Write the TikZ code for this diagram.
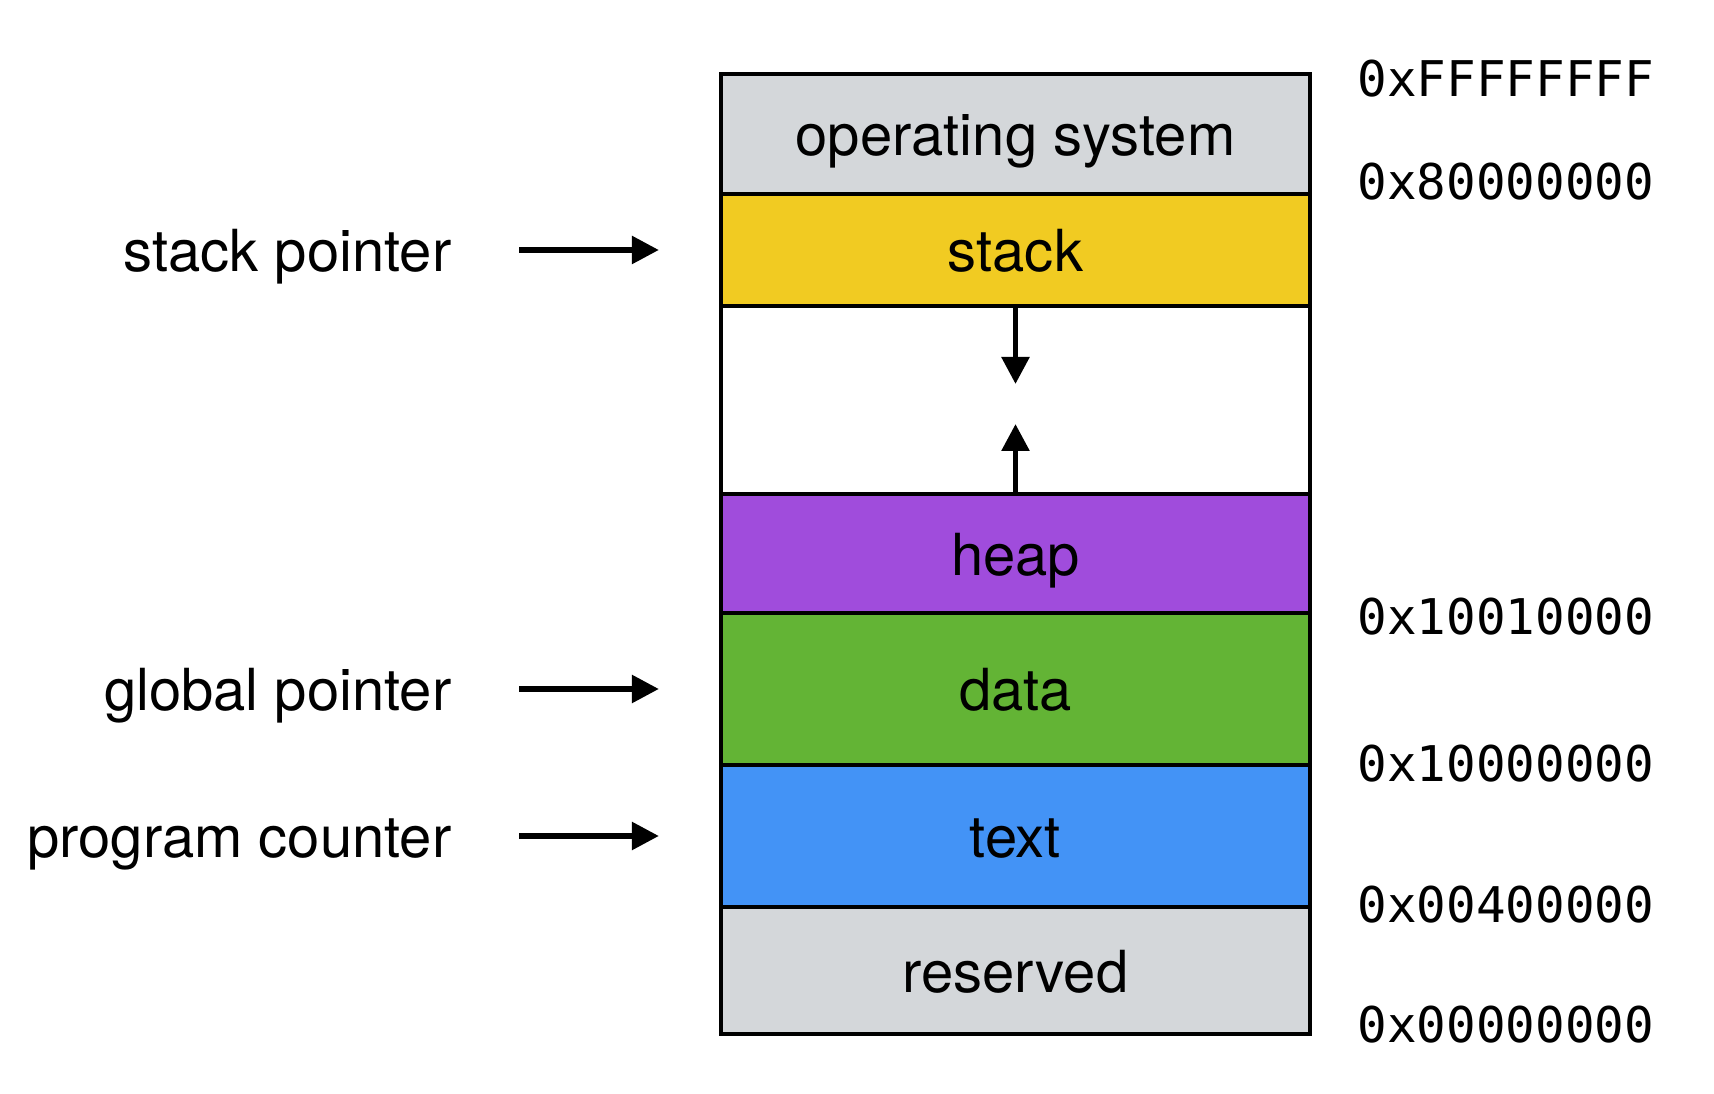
\documentclass[tikz,border=0pt]{standalone}
\usepackage{fontspec}
\setmainfont{TeX Gyre Heros}
\newfontfamily\addrfont{DejaVu Sans Mono}
\usetikzlibrary{arrows.meta}
\definecolor{osgray}{HTML}{D4D7DA}
\definecolor{stackyellow}{HTML}{F1CB22}
\definecolor{heappurple}{HTML}{A04CDC}
\definecolor{datagreen}{HTML}{63B435}
\definecolor{textblue}{HTML}{4393F6}
\tikzset{
  seg/.style={draw, line width=1.2pt, inner sep=0pt, minimum width=5.89cm,
    font=\fontsize{16.5}{20}\selectfont, text height=12.5pt, text depth=0pt},
  lbl/.style={anchor=east, inner sep=0pt,
    font=\fontsize{16.5}{20}\selectfont, text height=12.5pt, text depth=0pt},
  addr/.style={anchor=base west, inner sep=0pt, font=\addrfont\fontsize{14}{17}\selectfont},
  ptr/.style={-{Triangle[length=2.7mm,width=2.7mm]}, line width=1.6pt,
    shorten <=0.67cm, shorten >=0.6cm},
  growarrow/.style={-{Triangle[length=2.7mm,width=2.7mm]}, line width=1.6pt}
}
\begin{document}
\begin{tikzpicture}
\fill[white] (0,0) rectangle (17.14,10.94);
\useasboundingbox (0,0) rectangle (17.14,10.94);

% memory segments, top to bottom
\foreach \n/\y/\h/\col/\txt in {os/9.60/1.20/osgray/operating system,
    stack/8.44/1.12/stackyellow/stack, free/6.94/1.88/white/,
    heap/5.405/1.19/heappurple/heap, data/4.05/1.52/datagreen/data,
    text/2.58/1.42/textblue/text, res/1.235/1.27/osgray/reserved}
{
    \node[seg, fill=\col, minimum height=\h cm] (\n) at (10.155,\y) {\txt};
}

\coordinate (down) at (10.155,7.10);
\coordinate (up) at (10.155,6.70);
\draw[growarrow] (stack.south) -- (down);
\draw[growarrow] (heap.north) -- (up);

\node[lbl] (sp) at (4.52,8.44) {stack pointer};
\node[lbl] (gp) at (4.52,4.05) {global pointer};
\node[lbl] (pc) at (4.52,2.58) {program counter};
\draw[ptr] (sp.east) -- (stack.west);
\draw[ptr] (gp.east) -- (data.west);
\draw[ptr] (pc.east) -- (text.west);

% addresses
\foreach \n/\y/\a in {ffff/9.97/0xFFFFFFFF, kern/8.94/0x80000000,
    dyn/4.59/0x10010000, stat/3.12/0x10000000, code/1.71/0x00400000,
    zero/0.51/0x00000000}
{
    \node[addr] (\n) at (13.57,\y) {\a};
}
\end{tikzpicture}
\end{document}
